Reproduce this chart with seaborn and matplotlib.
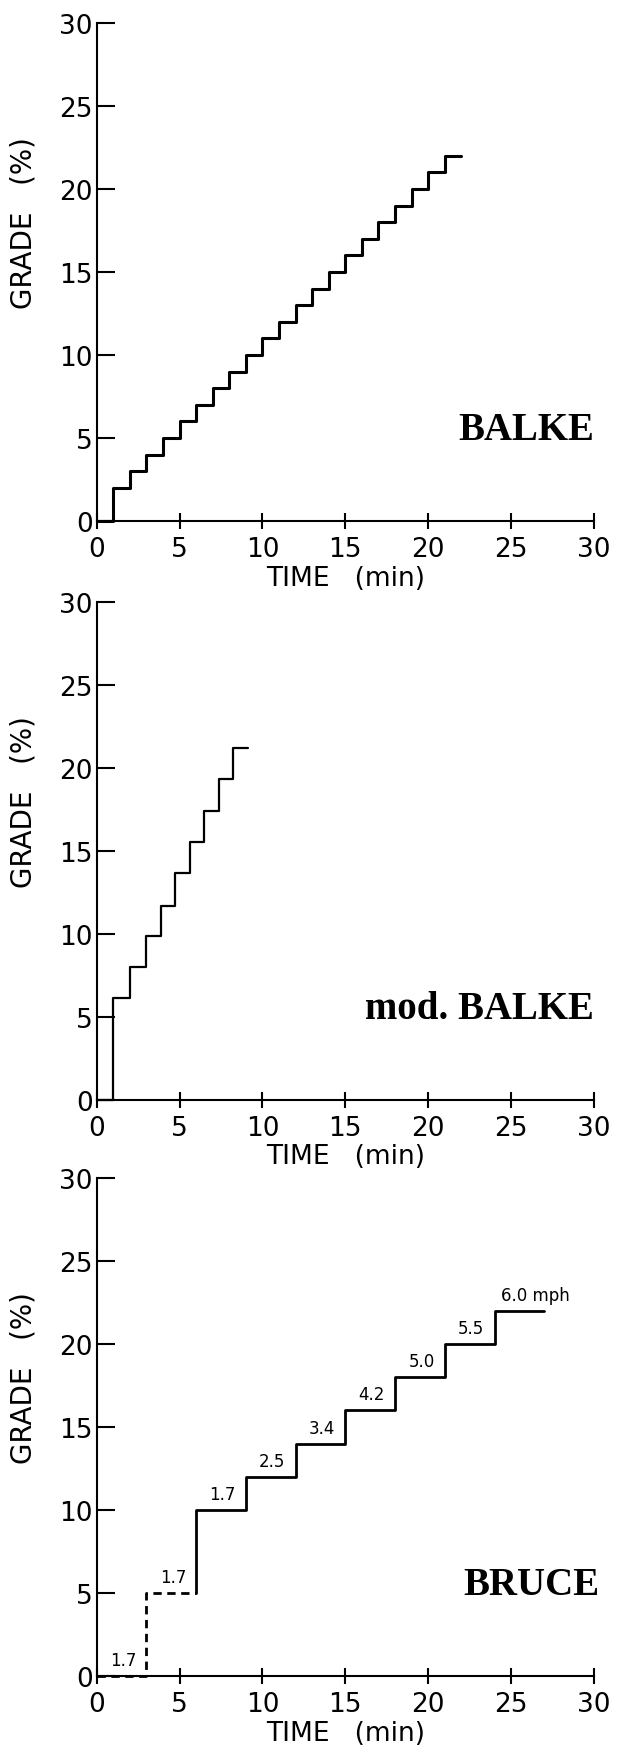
import matplotlib
matplotlib.use("Agg")
import matplotlib.pyplot as plt
import pandas as pd
import seaborn as sns

sns.set_style("ticks")
plt.rcParams["font.family"] = ["DejaVu Sans"]
plt.rcParams["text.color"] = "black"
plt.rcParams["axes.labelcolor"] = "black"
plt.rcParams["xtick.color"] = "black"
plt.rcParams["ytick.color"] = "black"

# Balke protocol: grade (%) held from each time (min)
balke_time = [0, 1, 2, 3, 4, 5, 6, 7, 8, 9, 10, 11, 12, 13, 14, 15, 16, 17, 18, 19, 20, 21, 22]
balke_grade = [0, 2, 3, 4, 5, 6, 7, 8, 9, 10, 11, 12, 13, 14, 15, 16, 17, 18, 19, 20, 21, 22, 22]

# modified Balke
mod_time = [0, 1.0, 2.0, 3.0, 3.86, 4.71, 5.6, 6.5, 7.37, 8.25, 9.15]
mod_grade = [0, 6.1, 8.0, 9.85, 11.7, 13.65, 15.5, 17.4, 19.3, 21.2, 21.2]

# Bruce protocol, speeds in mph
bruce_time = [0, 3, 6, 9, 12, 15, 18, 21, 24, 27]
bruce_grade = [0, 5, 10, 12, 14, 16, 18, 20, 22, 22]
bruce_speed = ["1.7", "1.7", "1.7", "2.5", "3.4", "4.2", "5.0", "5.5", "6.0 mph"]

ticks = [0, 5, 10, 15, 20, 25, 30]

fig = plt.figure(figsize=(6.17, 17.49), dpi=100)
left, width, height = 0.1567, 0.806, 0.2847
bottoms = [0.70154, 0.37067, 0.04117]
axes = [fig.add_axes([left, b, width, height]) for b in bottoms]


def style_axis(ax, name, name_x=1.0):
    ax.set_xlim(0, 30)
    ax.set_ylim(0, 30)
    ax.set_xticks(ticks)
    ax.set_yticks(ticks)
    sns.despine(ax=ax)
    for side in ["left", "bottom"]:
        ax.spines[side].set_linewidth(1.5)
        ax.spines[side].set_color("black")
    ax.tick_params(axis="y", direction="in", length=13, width=1.5, pad=3, labelsize=19)
    ax.tick_params(axis="x", direction="inout", length=11.5, width=1.5, pad=5, labelsize=19)
    ax.set_xlabel("TIME   (min)", fontsize=19, labelpad=2)
    ax.set_ylabel("GRADE   (%)", fontsize=20)
    ax.yaxis.set_label_coords(-0.12, 0.6)
    ax.text(name_x, 0.165, name, transform=ax.transAxes, ha="right", va="baseline",
            fontsize=28, fontweight="bold", family="Liberation Serif")


# Balke
df = pd.DataFrame({"time": balke_time, "grade": balke_grade})
sns.lineplot(data=df, x="time", y="grade", ax=axes[0], color="black", linewidth=2.2,
             drawstyle="steps-post", estimator=None, sort=False, clip_on=False)
style_axis(axes[0], "BALKE")

# modified Balke
df = pd.DataFrame({"time": mod_time, "grade": mod_grade})
sns.lineplot(data=df, x="time", y="grade", ax=axes[1], color="black", linewidth=1.6,
             drawstyle="steps-post", estimator=None, sort=False, clip_on=False)
style_axis(axes[1], "mod. BALKE")

# Bruce: first two stages dashed
dash = pd.DataFrame({"time": bruce_time[:3], "grade": bruce_grade[:2] + [bruce_grade[1]]})
solid = pd.DataFrame({"time": [bruce_time[2]] + bruce_time[2:],
                      "grade": [bruce_grade[1]] + bruce_grade[2:]})
sns.lineplot(data=dash, x="time", y="grade", ax=axes[2], color="black", linewidth=2.0,
             drawstyle="steps-post", estimator=None, sort=False, linestyle=(0, (3, 2)),
             clip_on=False)
sns.lineplot(data=solid, x="time", y="grade", ax=axes[2], color="black", linewidth=2.0,
             drawstyle="steps-post", estimator=None, sort=False, clip_on=False)
for i, speed in enumerate(bruce_speed):
    t0, t1 = bruce_time[i], bruce_time[i + 1]
    if i == len(bruce_speed) - 1:
        axes[2].annotate(speed, (t0 + 0.4, bruce_grade[i]), xytext=(0, 5),
                         textcoords="offset points", ha="left", va="bottom", fontsize=12)
    else:
        axes[2].annotate(speed, ((t0 + t1) / 2 + 0.1, bruce_grade[i]), xytext=(0, 5),
                         textcoords="offset points", ha="center", va="bottom", fontsize=12)
style_axis(axes[2], "BRUCE", name_x=1.01)

fig.savefig("out.png", dpi=100, facecolor="white")
